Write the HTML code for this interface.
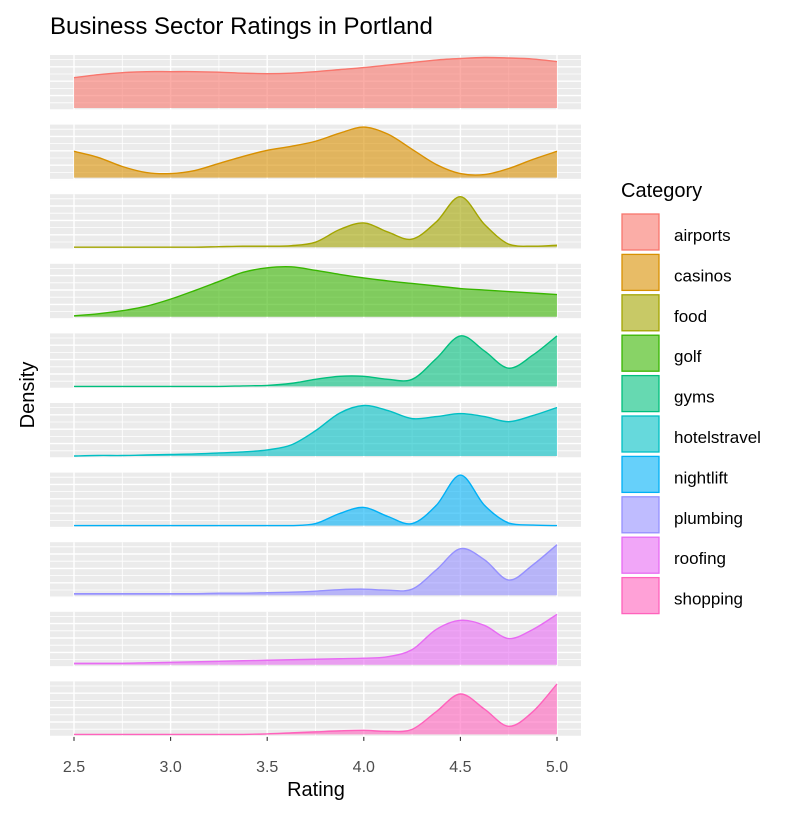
<!DOCTYPE html>
<html><head><meta charset="utf-8"><style>
body{margin:0;background:#fff;}
svg text{font-family:"Liberation Sans",Arial,sans-serif;}
</style></head><body>
<svg id="chart" width="808" height="813" xmlns="http://www.w3.org/2000/svg">
<rect width="808" height="813" fill="#fff"/>
<text x="50" y="34" font-size="24" fill="#000">Business Sector Ratings in Portland</text>
<text transform="translate(34,395) rotate(-90)" text-anchor="middle" font-size="20" fill="#000">Density</text>
<text x="316" y="796" text-anchor="middle" font-size="20" fill="#000">Rating</text>
<g id="panels"></g>
<g id="xaxis"></g>
<g id="legend"></g>
</svg>
<script>
const categories=["airports","casinos","food","golf","gyms","hotelstravel","nightlift","plumbing","roofing","shopping"];
const xGrid=[2.5,2.625,2.75,2.875,3.0,3.125,3.25,3.375,3.5,3.625,3.75,3.875,4.0,4.125,4.25,4.375,4.5,4.625,4.75,4.875,5.0];
const airports=[0.6,0.66,0.7,0.72,0.72,0.72,0.71,0.69,0.68,0.69,0.72,0.76,0.8,0.85,0.9,0.95,0.98,1,0.99,0.97,0.92];
const casinos=[0.52,0.4,0.22,0.1,0.08,0.14,0.28,0.42,0.54,0.62,0.72,0.88,1,0.86,0.56,0.26,0.08,0.06,0.18,0.36,0.52];
const food=[0,0,0,0,0,0,0.01,0.02,0.02,0.03,0.1,0.35,0.48,0.3,0.16,0.5,1,0.45,0.06,0.02,0.04];
const golf=[0.02,0.06,0.12,0.21,0.35,0.52,0.7,0.88,0.97,0.99,0.92,0.84,0.77,0.71,0.66,0.61,0.56,0.53,0.5,0.47,0.44];
const gyms=[0,0,0,0,0,0,0,0.01,0.02,0.06,0.14,0.2,0.2,0.14,0.14,0.55,1,0.7,0.36,0.62,1];
const hotelstravel=[0,0.01,0.01,0.02,0.03,0.04,0.06,0.08,0.12,0.22,0.5,0.85,1,0.9,0.74,0.78,0.84,0.78,0.68,0.8,0.96];
const nightlift=[0,0,0,0,0,0,0,0,0,0,0.04,0.24,0.36,0.18,0.04,0.4,1,0.4,0.05,0.01,0];
const plumbing=[0.03,0.03,0.03,0.03,0.03,0.03,0.04,0.04,0.05,0.06,0.08,0.11,0.12,0.1,0.12,0.5,0.92,0.7,0.3,0.6,1];
const roofing=[0.03,0.03,0.03,0.04,0.05,0.06,0.07,0.08,0.09,0.1,0.11,0.12,0.13,0.16,0.3,0.7,0.88,0.78,0.52,0.7,1];
const shopping=[0,0,0,0,0,0,0,0,0.01,0.03,0.05,0.07,0.08,0.06,0.1,0.45,0.8,0.5,0.16,0.45,1];
const xTicks=["2.5","3.0","3.5","4.0","4.5","5.0"];
const series=[airports,casinos,food,golf,gyms,hotelstravel,nightlift,plumbing,roofing,shopping];
const colors=["#F8766D","#D89000","#A3A500","#39B600","#00BF7D","#00BFC4","#00B0F6","#9590FF","#E76BF3","#FF62BC"];
const NS="http://www.w3.org/2000/svg";
const PX0=50,PX1=581,PT0=55,PSTEP=69.6,PH=55.5;
const xs=v=>74+(v-2.5)*(557-74)/2.5;
function mk(t,a,p){const e=document.createElementNS(NS,t);for(const k in a)e.setAttribute(k,a[k]);p.appendChild(e);return e;}
const panels=document.getElementById('panels');
series.forEach((vals,i)=>{
  const top=PT0+i*PSTEP, base=top+PH-2.5, ys=v=>base-v*(PH-5);
  const g=mk('g',{},panels);
  
  
  mk('rect',{x:PX0,y:top,width:PX1-PX0,height:PH,fill:'#EBEBEB'},g);
  for(let k=0;k<8;k++){const y=top+PH-0.5-k*7.2;mk('line',{x1:PX0,x2:PX1,y1:y,y2:y,stroke:'#fff','stroke-width':k%2?0.8:1.4},g);}
  for(let v=2.5;v<=5.001;v+=0.25){const x=xs(v);mk('line',{x1:x,x2:x,y1:top,y2:top+PH,stroke:'#fff','stroke-width':Math.abs(v*2-Math.round(v*2))<0.01?1.4:0.8},g);}
  const pts=vals.map((v,j)=>[xs(xGrid[j]),ys(v)]);
  let d='M'+pts[0][0]+','+pts[0][1];
  for(let j=0;j<pts.length-1;j++){
    const p0=pts[Math.max(0,j-1)],p1=pts[j],p2=pts[j+1],p3=pts[Math.min(pts.length-1,j+2)];
    const c1=[p1[0]+(p2[0]-p0[0])/6,Math.min(base,p1[1]+(p2[1]-p0[1])/6)];
    const c2=[p2[0]-(p3[0]-p1[0])/6,Math.min(base,p2[1]-(p3[1]-p1[1])/6)];
    d+=` C${c1[0]},${c1[1]} ${c2[0]},${c2[1]} ${p2[0]},${p2[1]}`;
  }
  const area=mk('path',{d:d+` L${xs(5)},${base} L${xs(2.5)},${base} Z`,fill:colors[i],'fill-opacity':0.6,stroke:'none'},g);
  
  
  const line=mk('path',{d:d,fill:'none',stroke:colors[i],'stroke-width':1.4},g);
  
  
});
const xa=document.getElementById('xaxis');
const axisY=PT0+9*PSTEP+PH;
xTicks.forEach(t=>{
  const x=xs(parseFloat(t));
  const tk=mk('line',{x1:x,x2:x,y1:axisY,y2:axisY+4,stroke:'#333','stroke-width':1.1},xa);
  
  
  const tx=mk('text',{x:x,y:axisY+35,'text-anchor':'middle','font-size':16,fill:'#4D4D4D'},xa);
  tx.textContent=t;
  
  
});
const lg=document.getElementById('legend');


const lt=mk('text',{x:621,y:197,'font-size':20,fill:'#000'},lg);
lt.textContent='Category';


categories.forEach((c,i)=>{
  const y=214+i*40.4;
  const g=mk('g',{},lg);
  
  
  mk('rect',{x:622,y:y,width:37,height:36,fill:colors[i],'fill-opacity':0.6,stroke:colors[i],'stroke-width':1.3},g);
  const t=mk('text',{x:674,y:y+27,'font-size':17,fill:'#000'},g);
  t.textContent=c;
});
</script>
</body></html>
